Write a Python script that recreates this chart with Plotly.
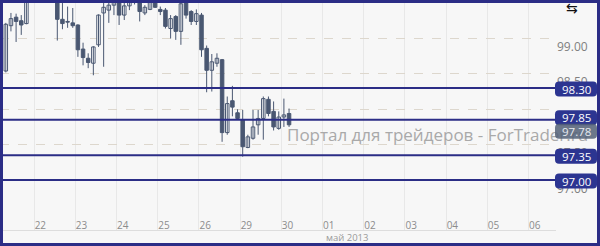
import plotly.graph_objects as go

# ---------------- data ----------------
days = ["22", "23", "24", "25", "26", "29", "30", "01", "02", "03", "04", "05", "06"]
month_label = "май 2013"
watermark = "Портал для трейдеров - ForTrader.ru"
candles_per_day = 8
first_day_start = 5.5  # candle index where day "22" begins

opens = [98.54, 99.18, 99.30, 99.25, 99.21, 99.61, 99.70, 99.66, 99.62, 99.68,
         99.63, 99.27, 99.24, 99.22, 99.19, 98.85, 98.72, 98.65, 98.91, 99.36,
         99.40, 99.47, 99.52, 99.33, 99.46, 99.52, 99.52, 99.36, 99.41, 99.51,
         99.41, 99.40, 99.14, 99.31, 99.10, 99.50, 99.38, 99.24, 99.33, 98.86,
         98.55, 98.65, 98.70, 97.67, 98.12, 97.95, 97.85, 97.46, 97.59, 97.78,
         97.87, 98.14, 97.97, 97.73, 97.89, 97.94]
highs = [99.22, 99.36, 99.35, 99.33, 99.68, 99.75, 99.80, 99.74, 99.71, 99.74,
         99.66, 99.50, 99.45, 99.43, 99.20, 98.94, 98.79, 98.89, 99.34, 99.50,
         99.52, 99.62, 99.55, 99.50, 99.55, 99.65, 99.56, 99.47, 99.55, 99.56,
         99.45, 99.43, 99.33, 99.33, 99.55, 99.55, 99.40, 99.41, 99.36, 98.90,
         98.78, 98.79, 98.71, 98.18, 98.33, 98.00, 97.99, 97.64, 97.99, 97.99,
         98.18, 98.18, 98.11, 97.97, 98.15, 98.01]
lows = [98.52, 99.10, 98.95, 99.05, 99.20, 99.56, 99.60, 99.58, 99.56, 99.57,
        98.97, 99.13, 99.15, 99.15, 98.74, 98.62, 98.58, 98.48, 98.88, 98.60,
        99.22, 99.33, 99.19, 99.26, 99.40, 99.48, 99.24, 99.33, 99.40, 99.43,
        99.33, 99.14, 99.00, 98.98, 98.91, 99.28, 99.19, 99.19, 98.74, 98.24,
        98.25, 98.60, 97.54, 97.64, 97.90, 97.85, 97.33, 97.45, 97.57, 97.64,
        97.57, 97.90, 97.70, 97.71, 97.75, 97.75]
closes = [99.20, 99.28, 99.24, 99.19, 99.61, 99.70, 99.66, 99.62, 99.68, 99.63,
          99.27, 99.21, 99.23, 99.18, 98.84, 98.73, 98.66, 98.88, 99.33, 99.44,
          99.47, 99.57, 99.33, 99.46, 99.52, 99.60, 99.38, 99.44, 99.52, 99.44,
          99.38, 99.17, 99.28, 99.10, 99.49, 99.33, 99.24, 99.35, 98.84, 98.55,
          98.67, 98.72, 97.67, 98.08, 98.03, 97.87, 97.47, 97.61, 97.75, 97.87,
          98.15, 97.94, 97.75, 97.89, 97.92, 97.78]

levels = [98.30, 97.85, 97.35, 97.00]
price_ticks = [97.0, 97.5, 98.0, 98.5, 99.0]

# ---------------- style ----------------
W, H = 600, 246
PLOT_RIGHT = 556
PLOT_BOTTOM = 230
NAVY = "#2b2d86"
BOX = "#2c3591"
CANDLE = "#4a5872"
BG = "#f7f7f7"
FONT = "Open Sans"
level_box_shift = {98.30: -1, 97.85: 2, 97.35: -1, 97.00: -1}  # px, label de-overlap
last_box_shift = -6.5

idx = list(range(len(opens)))
bull = [i for i in idx if closes[i] >= opens[i]]
bear = [i for i in idx if closes[i] < opens[i]]

fig = go.Figure()

# wicks
wx, wy = [], []
for i in idx:
    wx += [i, i, None]
    wy += [lows[i], highs[i], None]
fig.add_trace(go.Scatter(x=wx, y=wy, mode="lines", line=dict(color=CANDLE, width=1),
                         hoverinfo="skip", showlegend=False))


def body(ids, fill):
    return go.Bar(
        x=ids,
        base=[min(opens[i], closes[i]) for i in ids],
        y=[max(abs(closes[i] - opens[i]), 0.006) for i in ids],
        width=0.68,
        marker=dict(color=fill, line=dict(color=CANDLE, width=1)),
        showlegend=False, hoverinfo="skip",
    )


fig.add_trace(body(bull, "#ffffff"))
fig.add_trace(body(bear, CANDLE))

# y scale: 98.30 at px 88, 70.8 px per unit
px_per_unit = 70.8
y_top = 98.30 + 88 / px_per_unit
y_bot = 98.30 - (PLOT_BOTTOM - 88) / px_per_unit

# x scale: candle 0 at px 5.8, 5.15 px per candle
px_per_candle = 5.15
x0px = 5.8
x_lo = -x0px / px_per_candle
x_hi = (PLOT_RIGHT - x0px) / px_per_candle

tickvals = [first_day_start + d * candles_per_day for d in range(len(days))]

shapes = []
annotations = []

# watermark (as a shape label so price boxes can cover it)
shapes.append(dict(
    type="rect", xref="paper", yref="paper",
    x0=284 / W, x1=1.0, y0=1 - 143 / H, y1=1 - 127 / H,
    line=dict(width=0), fillcolor="rgba(0,0,0,0)", layer="above",
    label=dict(text=watermark, textposition="middle left", padding=0,
               font=dict(family=FONT, size=17, color="#a9a9a9")),
))

# level lines
for lv in levels:
    shapes.append(dict(type="line", xref="paper", yref="y", x0=0, x1=555 / W,
                       y0=lv, y1=lv, line=dict(color=NAVY, width=2), layer="above"))


def rounded_box(w, h, r, dy):
    t, b = dy + h / 2, dy - h / 2
    return (f"M {r},{b} L {w - r},{b} Q {w},{b} {w},{b + r} L {w},{t - r} "
            f"Q {w},{t} {w - r},{t} L {r},{t} Q 0,{t} 0,{t - r} L 0,{b + r} "
            f"Q 0,{b} {r},{b} Z")


box_items = [(lv, f"{lv:.2f}", BOX, "#ffffff", level_box_shift[lv]) for lv in levels]
box_items.append((closes[-1], f"{closes[-1]:.2f}", "rgba(84,98,120,0.86)", "#e6eaf0",
                  last_box_shift))
for val, txt, col, tcol, dy in box_items:
    shapes.append(dict(
        type="path", xref="paper", yref="y", xsizemode="pixel", ysizemode="pixel",
        xanchor=555 / W, yanchor=val, path=rounded_box(42, 15, 4, dy),
        fillcolor=col, line=dict(width=0), layer="above",
    ))
    annotations.append(dict(
        x=576 / W, xref="paper", y=val, yref="y", yshift=dy, text=txt,
        showarrow=False, xanchor="center", yanchor="middle",
        font=dict(family=FONT, size=11.5, color=tcol),
    ))

# outer border
shapes.append(dict(type="rect", xref="paper", yref="paper",
                   x0=1.5 / W, x1=1 - 1.5 / W, y0=1.5 / H, y1=1 - 1.5 / H,
                   line=dict(color=NAVY, width=3), fillcolor="rgba(0,0,0,0)", layer="above"))

annotations.append(dict(x=324 / W, xref="paper", y=1 - 237 / H, yref="paper",
                        text=month_label, showarrow=False, xanchor="left", yanchor="middle",
                        font=dict(family=FONT, size=9.5, color="#9a9a9a")))
annotations.append(dict(x=572 / W, xref="paper", y=1 - 8 / H, yref="paper",
                        text="⇆", showarrow=False, xanchor="center", yanchor="middle",
                        font=dict(family="DejaVu Sans", size=14, color="#111111")))

fig.update_layout(
    width=W, height=H, autosize=False,
    margin=dict(l=0, r=0, t=0, b=0, pad=0),
    paper_bgcolor=BG, plot_bgcolor=BG,
    barmode="overlay",
    showlegend=False,
    shapes=shapes, annotations=annotations,
    xaxis=dict(
        domain=[0, PLOT_RIGHT / W], range=[x_lo, x_hi],
        tickvals=tickvals, ticktext=days,
        ticklabelposition="inside right", ticks="", ticklabelstandoff=-5,
        tickfont=dict(family=FONT, size=10, color="#8c8c8c"),
        showgrid=True, gridcolor="#e8e8e8", gridwidth=1,
        showline=True, linecolor="#dddddd", linewidth=1,
        zeroline=False, fixedrange=True,
    ),
    yaxis=dict(
        domain=[1 - PLOT_BOTTOM / H, 1], range=[y_bot, y_top], side="right",
        tickvals=price_ticks, ticktext=[f"{v:.2f}" for v in price_ticks],
        ticklabelposition="outside bottom", ticks="",
        tickfont=dict(family=FONT, size=12, color="#808080"),
        showgrid=True, gridcolor="#ddd7cd", griddash="dash", gridwidth=1,
        showline=False, zeroline=False, fixedrange=True,
    ),
)

fig.write_html("out.html", config={"displayModeBar": False})
